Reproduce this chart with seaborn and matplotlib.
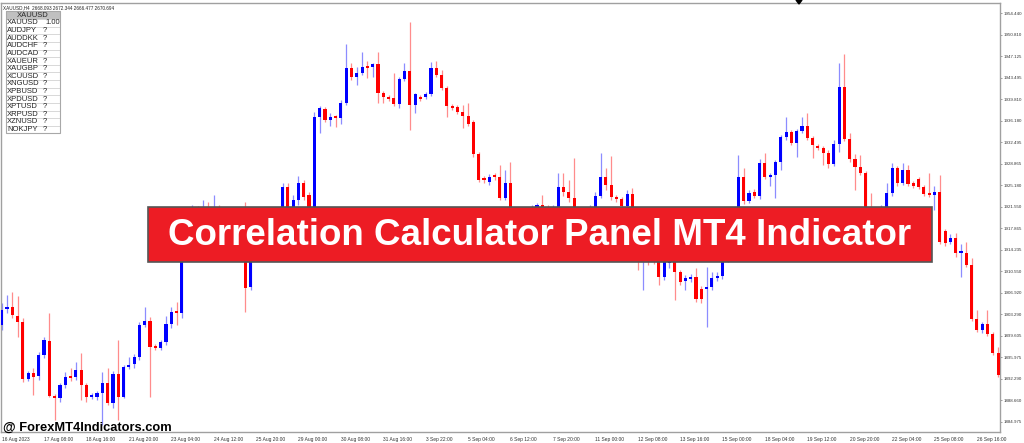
import numpy as np
import pandas as pd
import seaborn as sns
import matplotlib.pyplot as plt
from matplotlib.patches import Rectangle, Polygon

# XAUUSD H4 candles
opens = [1901.45, 1904.17, 1904.51, 1902.98, 1901.96, 1892.27, 1893.29, 1892.78, 1896.35, 1898.73,
         1889.38, 1889.04, 1891.25, 1892.78, 1892.61, 1893.80, 1891.25, 1889.21, 1889.21, 1889.89,
         1891.59, 1888.19, 1893.12, 1889.21, 1894.31, 1894.82, 1896.01, 1901.45, 1902.13, 1897.88,
         1897.54, 1898.56, 1901.62, 1903.66, 1903.49, 1920.15, 1918.96, 1920.66, 1919.30, 1921.00,
         1918.45, 1920.66, 1917.94, 1915.90, 1917.26, 1914.54, 1915.90, 1907.91, 1913.35, 1915.05,
         1914.20, 1917.60, 1920.15, 1918.96, 1924.91, 1920.15, 1922.70, 1925.59, 1923.55, 1921.34,
         1936.81, 1938.17, 1936.30, 1936.81, 1936.64, 1939.19, 1945.14, 1943.61, 1944.29, 1945.31,
         1945.31, 1945.82, 1940.89, 1940.21, 1940.04, 1939.02, 1943.27, 1944.63, 1938.85, 1940.21,
         1940.21, 1940.72, 1945.14, 1943.95, 1941.74, 1938.68, 1938.51, 1937.66, 1936.98, 1935.96,
         1930.52, 1926.44, 1925.76, 1926.78, 1926.61, 1923.04, 1925.59, 1920.15, 1918.45, 1919.64,
         1917.94, 1921.00, 1921.85, 1921.34, 1919.30, 1921.34, 1924.91, 1924.06, 1923.04, 1920.15,
         1918.45, 1919.64, 1921.34, 1923.38, 1926.61, 1925.25, 1923.21, 1922.87, 1921.68, 1923.72,
         1920.15, 1915.90, 1917.60, 1914.20, 1912.84, 1909.61, 1911.99, 1912.16, 1910.46, 1908.93,
         1909.27, 1909.61, 1907.57, 1907.57, 1907.91, 1909.44, 1909.78, 1912.50, 1917.60, 1915.05,
         1926.61, 1922.53, 1924.06, 1923.38, 1928.99, 1926.61, 1926.95, 1929.16, 1933.41, 1934.26,
         1932.39, 1934.43, 1935.28, 1933.24, 1931.88, 1931.54, 1930.69, 1928.82, 1932.22, 1941.91,
         1933.07, 1929.67, 1928.31, 1927.29, 1920.15, 1917.60, 1918.96, 1921.51, 1923.89, 1928.14,
         1925.59, 1927.80, 1925.59, 1926.27, 1924.91, 1923.72, 1923.55, 1924.06, 1917.43, 1915.56,
         1916.24, 1913.69, 1913.69, 1911.65, 1902.47, 1900.60, 1901.62, 1899.92, 1896.69]

highs = [1905.19, 1906.55, 1907.06, 1906.38, 1902.64, 1893.63, 1894.14, 1896.86, 1899.41, 1903.49,
         1889.72, 1891.59, 1893.46, 1894.14, 1895.16, 1896.69, 1891.59, 1889.89, 1890.23, 1893.46,
         1894.14, 1893.63, 1898.90, 1894.65, 1896.01, 1896.52, 1901.96, 1904.51, 1902.81, 1898.22,
         1898.90, 1902.98, 1904.51, 1905.36, 1920.66, 1921.34, 1921.85, 1921.68, 1922.70, 1922.36,
         1923.55, 1921.85, 1920.15, 1918.45, 1918.96, 1916.58, 1922.36, 1914.20, 1915.90, 1916.24,
         1918.45, 1920.66, 1921.00, 1925.59, 1925.59, 1923.55, 1926.78, 1926.10, 1924.06, 1937.66,
         1938.68, 1938.51, 1937.49, 1937.15, 1939.70, 1949.22, 1945.99, 1945.31, 1947.86, 1946.33,
         1945.99, 1947.86, 1941.23, 1940.55, 1944.29, 1943.61, 1945.99, 1952.96, 1940.89, 1940.55,
         1941.06, 1946.16, 1946.33, 1944.80, 1942.08, 1939.02, 1938.85, 1938.85, 1939.19, 1936.30,
         1930.86, 1926.78, 1927.12, 1927.29, 1928.65, 1927.80, 1929.16, 1921.00, 1920.66, 1921.00,
         1921.85, 1922.19, 1923.55, 1921.85, 1921.85, 1927.29, 1927.29, 1926.10, 1929.84, 1920.66,
         1920.32, 1921.85, 1924.06, 1930.69, 1928.14, 1930.18, 1923.55, 1923.21, 1924.40, 1924.74,
         1920.66, 1918.45, 1920.15, 1915.90, 1914.20, 1912.50, 1913.35, 1913.35, 1910.80, 1909.95,
         1910.12, 1911.14, 1908.08, 1911.31, 1910.46, 1910.46, 1913.35, 1918.45, 1919.30, 1930.35,
         1928.14, 1924.40, 1924.57, 1929.67, 1930.69, 1927.29, 1929.50, 1933.75, 1936.81, 1934.60,
         1934.77, 1936.81, 1937.49, 1933.58, 1932.22, 1931.88, 1931.20, 1932.90, 1945.99, 1947.52,
         1934.09, 1930.52, 1930.35, 1927.63, 1923.89, 1919.30, 1921.85, 1925.59, 1928.99, 1928.48,
         1928.99, 1928.65, 1925.93, 1926.61, 1925.25, 1927.29, 1925.08, 1926.95, 1917.77, 1916.92,
         1917.09, 1915.22, 1915.56, 1912.84, 1904.00, 1901.96, 1904.00, 1900.26, 1897.71]

lows = [1900.60, 1903.49, 1902.64, 1899.41, 1891.76, 1891.93, 1889.55, 1892.10, 1895.84, 1889.21,
        1885.30, 1888.36, 1890.74, 1891.93, 1892.10, 1888.70, 1888.36, 1888.87, 1888.70, 1884.45,
        1887.85, 1887.34, 1885.30, 1889.04, 1893.97, 1894.14, 1895.50, 1901.11, 1889.21, 1897.20,
        1897.20, 1898.05, 1900.94, 1901.45, 1902.64, 1917.60, 1917.94, 1917.26, 1918.28, 1916.75,
        1917.60, 1916.24, 1914.54, 1914.88, 1913.35, 1913.86, 1903.66, 1907.40, 1912.84, 1913.35,
        1913.69, 1916.75, 1917.94, 1918.28, 1919.30, 1919.64, 1921.85, 1922.70, 1920.15, 1920.66,
        1934.09, 1935.96, 1935.28, 1935.11, 1935.62, 1938.85, 1943.10, 1942.25, 1943.95, 1943.44,
        1943.61, 1939.19, 1939.19, 1939.53, 1938.68, 1938.34, 1942.93, 1934.60, 1937.49, 1939.53,
        1939.87, 1940.38, 1943.61, 1941.40, 1936.81, 1938.00, 1937.32, 1934.94, 1935.28, 1930.01,
        1925.76, 1925.59, 1925.25, 1926.10, 1922.70, 1922.70, 1919.30, 1917.26, 1917.60, 1916.75,
        1917.26, 1920.32, 1920.66, 1918.28, 1918.62, 1920.66, 1923.38, 1922.36, 1919.30, 1917.60,
        1917.26, 1918.96, 1921.00, 1923.04, 1924.40, 1922.70, 1922.36, 1921.17, 1921.34, 1918.45,
        1910.80, 1907.40, 1911.65, 1911.82, 1908.25, 1909.10, 1911.14, 1905.70, 1908.25, 1907.40,
        1908.76, 1905.36, 1905.19, 1901.11, 1907.40, 1908.93, 1909.27, 1912.16, 1914.20, 1914.54,
        1922.02, 1922.19, 1923.04, 1922.87, 1926.27, 1925.08, 1923.04, 1927.80, 1932.90, 1932.05,
        1930.01, 1934.09, 1932.90, 1929.84, 1931.20, 1928.65, 1928.14, 1928.48, 1930.86, 1932.73,
        1929.16, 1924.40, 1926.95, 1918.45, 1915.90, 1916.75, 1917.94, 1921.00, 1923.38, 1925.08,
        1925.25, 1925.08, 1924.74, 1924.57, 1923.38, 1923.21, 1921.00, 1915.22, 1914.88, 1915.22,
        1913.01, 1909.61, 1911.31, 1902.13, 1900.26, 1900.09, 1899.58, 1896.35, 1892.61]

closes = [1904.00, 1904.51, 1903.15, 1901.96, 1892.27, 1893.29, 1892.61, 1896.35, 1898.90, 1889.38,
          1889.04, 1891.25, 1892.61, 1892.44, 1893.80, 1891.25, 1889.21, 1889.55, 1889.89, 1891.59,
          1888.19, 1893.12, 1889.21, 1894.31, 1894.65, 1896.01, 1901.45, 1902.13, 1897.71, 1897.54,
          1898.56, 1901.62, 1903.66, 1903.49, 1920.15, 1918.96, 1920.66, 1919.30, 1921.00, 1918.45,
          1920.66, 1917.94, 1915.90, 1917.26, 1914.54, 1915.90, 1907.74, 1913.35, 1915.05, 1914.20,
          1917.60, 1920.15, 1918.96, 1924.91, 1920.15, 1922.70, 1925.59, 1923.21, 1921.34, 1936.81,
          1938.34, 1936.30, 1936.81, 1936.64, 1939.19, 1945.14, 1943.61, 1944.29, 1945.31, 1945.14,
          1945.82, 1940.89, 1940.21, 1939.87, 1939.02, 1943.27, 1944.63, 1938.85, 1940.72, 1939.87,
          1940.72, 1945.14, 1943.95, 1941.74, 1938.68, 1938.34, 1937.66, 1936.98, 1935.62, 1930.52,
          1926.10, 1926.10, 1926.61, 1926.61, 1923.04, 1925.59, 1920.15, 1918.45, 1919.64, 1917.94,
          1921.00, 1921.85, 1921.34, 1919.30, 1921.34, 1924.91, 1924.06, 1923.04, 1920.15, 1918.45,
          1919.64, 1921.34, 1923.38, 1926.61, 1925.25, 1923.21, 1922.87, 1921.68, 1923.72, 1920.15,
          1915.90, 1917.60, 1914.20, 1912.84, 1909.61, 1912.16, 1912.33, 1910.46, 1908.76, 1909.44,
          1909.61, 1905.87, 1905.87, 1907.91, 1909.44, 1909.78, 1912.50, 1917.60, 1915.05, 1926.61,
          1922.53, 1923.89, 1923.38, 1928.99, 1926.61, 1926.95, 1929.16, 1933.41, 1934.26, 1932.39,
          1934.43, 1935.28, 1933.24, 1932.05, 1931.54, 1930.69, 1928.82, 1932.22, 1941.91, 1933.07,
          1929.67, 1928.31, 1927.29, 1920.15, 1917.60, 1918.96, 1921.51, 1923.89, 1928.14, 1925.59,
          1927.80, 1925.42, 1925.08, 1924.91, 1923.72, 1923.55, 1924.06, 1915.56, 1915.39, 1916.24,
          1913.69, 1913.86, 1911.65, 1902.47, 1900.60, 1901.62, 1899.92, 1896.69, 1892.95]

date_labels = ['16 Aug 2023', '17 Aug 08:00', '18 Aug 16:00', '21 Aug 20:00', '23 Aug 04:00',
               '24 Aug 12:00', '25 Aug 20:00', '29 Aug 00:00', '30 Aug 08:00', '31 Aug 16:00',
               '3 Sep 22:00', '5 Sep 04:00', '6 Sep 12:00', '7 Sep 20:00', '11 Sep 00:00',
               '12 Sep 08:00', '13 Sep 16:00', '15 Sep 00:00', '18 Sep 04:00', '19 Sep 12:00',
               '20 Sep 20:00', '22 Sep 04:00', '25 Sep 08:00', '26 Sep 16:00']
price_ticks = [1954.440, 1950.810, 1947.125, 1943.495, 1939.810, 1936.180, 1932.495,
               1928.865, 1925.180, 1921.550, 1917.865, 1914.235, 1910.550, 1906.920,
               1903.290, 1899.605, 1895.975, 1892.290, 1888.660, 1884.975]

panel_symbols = ['XAUUSD', 'AUDJPY', 'AUDDKK', 'AUDCHF', 'AUDCAD', 'XAUEUR', 'XAUGBP', 'XCUUSD',
                 'XNGUSD', 'XPBUSD', 'XPDUSD', 'XPTUSD', 'XRPUSD', 'XZNUSD', 'NOKJPY']
panel_values = ['1.00'] + ['?'] * 14

sns.set_theme(style='white')
plt.rcParams['font.family'] = ['Liberation Sans', 'DejaVu Sans']

df = pd.DataFrame({'open': opens, 'high': highs, 'low': lows, 'close': closes})
df['bar'] = np.arange(len(df))
df['up'] = df['close'] >= df['open']

W, H = 1024, 443
fig = plt.figure(figsize=(W / 100, H / 100), dpi=100)
ax = fig.add_axes([1 / W, (H - 432) / H, 999 / W, 429 / H])


def fx(px):
    return px / W


def fy(py):
    return 1 - py / H


# wicks then bodies
ax.vlines(df['bar'], df['low'], df['high'],
          colors=np.where(df['up'], '#8c8cff', '#ff8c8c'), linewidth=0.9, zorder=2)
body_bottom = df[['open', 'close']].min(axis=1)
body_height = (df['close'] - df['open']).abs().clip(lower=0.3)
ax.bar(df['bar'], body_height, bottom=body_bottom, width=0.6,
       color=np.where(df['up'], '#0000ff', '#ff0000'), linewidth=0, zorder=3)

ax.set_xlim(-0.13, 188.36)
ax.set_ylim(1883.26, 1956.19)

for s in ax.spines.values():
    s.set_color('#a0a0a0')
    s.set_linewidth(1)

ax.yaxis.tick_right()
ax.set_yticks(price_ticks)
ax.set_yticklabels([f'{v:.3f}' for v in price_ticks], fontsize=3.2, color='#333333')
ax.set_xticks(range(0, len(df), 8)[:len(date_labels)])
ax.set_xticklabels(date_labels, fontsize=3.5, color='#333333', ha='left')
ax.tick_params(axis='y', direction='out', length=1.5, width=0.5, color='#777777', pad=0.8)
ax.tick_params(axis='x', direction='out', length=2, width=0.5, color='#777777', pad=1.5)

# header text
fig.text(fx(3), fy(9), 'XAUUSD,H4  2668.093 2672.344 2666.477 2670.694',
         fontsize=3.3, color='#222222', va='baseline')

# correlation panel
row_h = 7.62
top = 11.5
fig.patches.append(Rectangle((fx(6), fy(top + row_h)), fx(54), row_h / H,
                             transform=fig.transFigure, facecolor='#c0c0c0',
                             edgecolor='#b0b0b0', linewidth=0.6, zorder=4))
fig.text(fx(33), fy(top + row_h / 2), 'XAUUSD', fontsize=5.5, ha='center', va='center', zorder=5)
for i, (sym, val) in enumerate(zip(panel_symbols, panel_values)):
    y0 = top + row_h * (i + 1)
    fig.patches.append(Rectangle((fx(6), fy(y0 + row_h)), fx(54), row_h / H,
                                 transform=fig.transFigure, facecolor='white',
                                 edgecolor='#d0d0d0', linewidth=0.5, zorder=4))
    fig.text(fx(7), fy(y0 + row_h / 2), sym, fontsize=5.5, va='center', zorder=5)
    if val == '?':
        fig.text(fx(43), fy(y0 + row_h / 2), val, fontsize=5.5, va='center', zorder=5)
    else:
        fig.text(fx(60), fy(y0 + row_h / 2), val, fontsize=5.5, va='center', ha='right', zorder=5)
fig.patches.append(Rectangle((fx(6), fy(top + row_h * 16)), fx(54), row_h * 16 / H,
                             transform=fig.transFigure, facecolor='none',
                             edgecolor='#a8a8a8', linewidth=0.8, zorder=6))

# chart shift marker
fig.patches.append(Polygon([[fx(796), fy(0)], [fx(802), fy(0)], [fx(799), fy(4)]],
                           closed=True, transform=fig.transFigure, color='black', zorder=6))

# banner
fig.patches.append(Rectangle((fx(148), fy(262)), fx(784), 55 / H, transform=fig.transFigure,
                             facecolor='#ed1c24', edgecolor='#555555', linewidth=1.2, zorder=7))
fig.text(fx(540), fy(236), 'Correlation Calculator Panel MT4 Indicator', fontsize=26.5,
         fontweight='bold', color='white', ha='center', va='center', zorder=8)

# watermark
fig.text(fx(3), fy(431), '@ ForexMT4Indicators.com', fontsize=9.3, fontweight='bold',
         color='black', va='baseline', zorder=8)

fig.savefig('out.png', dpi=100, facecolor='white')
